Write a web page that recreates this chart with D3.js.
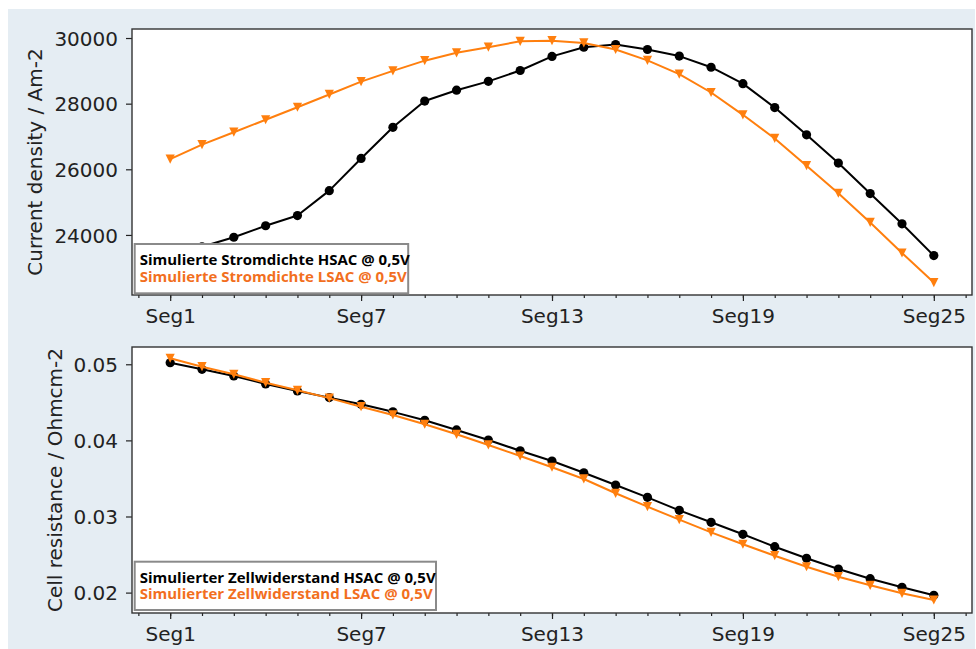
<!DOCTYPE html>
<html>
<head>
<meta charset="utf-8">
<script src="https://cdn.jsdelivr.net/npm/d3@7"></script>
<style>
  html, body { margin: 0; padding: 0; background: #ffffff; }
  svg { display: block; }
  .tick text { font-family: "DejaVu Sans", sans-serif; font-size: 20px; fill: #222; }
  .tick line { stroke: #222; stroke-width: 1.2; }
  .axis-title { font-family: "DejaVu Sans", sans-serif; font-size: 20px; fill: #222; }
  .legend-text { font-family: "Open Sans", sans-serif; font-weight: 700; font-size: 15px; }
</style>
</head>
<body>
<script>
// Segment categories along the cell
const segments = d3.range(1, 26).map(i => "Seg" + i);
const segTickLabels = ["Seg1", "Seg7", "Seg13", "Seg19", "Seg25"];

// Simulated current density per segment (A/m²)
const currentHSAC = [23250, 23640, 23930, 24280, 24590, 25350, 26330, 27280, 28080, 28410,
                     28680, 29010, 29440, 29720, 29800, 29650, 29450, 29110, 28610, 27880,
                     27050, 26190, 25260, 24340, 23370];
const currentLSAC = [26310, 26750, 27130, 27510, 27890, 28280, 28670, 29000, 29310, 29550,
                     29720, 29900, 29920, 29850, 29650, 29320, 28900, 28340, 27660, 26940,
                     26110, 25270, 24380, 23450, 22550];

// Simulated cell resistance per segment (Ohm cm²)
const resistHSAC = [0.0502, 0.04934, 0.04846, 0.04741, 0.04649, 0.04562, 0.04475, 0.04375, 0.04264, 0.04137,
                    0.04005, 0.03863, 0.03729, 0.03574, 0.03414, 0.03252, 0.03081, 0.02924, 0.02766, 0.02603,
                    0.02451, 0.0231, 0.02183, 0.0207, 0.01965];
const resistLSAC = [0.05079, 0.04968, 0.04869, 0.04758, 0.04658, 0.04555, 0.04443, 0.04334, 0.04212, 0.0408,
                    0.0394, 0.03795, 0.03647, 0.03493, 0.03305, 0.03129, 0.02958, 0.02792, 0.02635, 0.02485,
                    0.0234, 0.02209, 0.02096, 0.01991, 0.01903];

const currentTicks = [24000, 26000, 28000, 30000];
const resistTicks = [0.02, 0.03, 0.04, 0.05];

const W = 976, H = 649;
const svg = d3.select("body").append("svg").attr("width", W).attr("height", H);

// light figure background
svg.append("rect").attr("x", 8).attr("y", 9).attr("width", 967).attr("height", 640).attr("fill", "#e5edf3");

const left = 132, right = 972;
const x = d3.scaleLinear().domain([-1.2, 25.2]).range([left, right]);

function panel(cfg) {
  const g = svg.append("g");
  const y = d3.scaleLinear().domain(cfg.domain).range([cfg.bottom, cfg.top]);

  g.append("rect").attr("x", left).attr("y", cfg.top)
    .attr("width", right - left).attr("height", cfg.bottom - cfg.top)
    .attr("fill", "#ffffff");

  // x minor ticks at every segment (and one beyond each end)
  const minor = g.append("g").attr("transform", `translate(0,${cfg.bottom})`)
    .call(d3.axisBottom(x).tickValues(d3.range(-1, 26)).tickSize(3).tickFormat(""));
  minor.select(".domain").remove();

  // x major ticks with labels
  const major = g.append("g").attr("transform", `translate(0,${cfg.bottom})`)
    .call(d3.axisBottom(x)
      .tickValues(segTickLabels.map(s => segments.indexOf(s)))
      .tickSize(6).tickPadding(7.5)
      .tickFormat(i => segments[i]));
  major.select(".domain").remove();

  const yAxis = g.append("g").attr("transform", `translate(${left},0)`)
    .call(d3.axisLeft(y).tickValues(cfg.ticks).tickSize(6).tickPadding(8).tickFormat(cfg.fmt));
  yAxis.select(".domain").remove();
  yAxis.selectAll(".tick text").attr("dy", "0.36em");

  g.append("text").attr("class", "axis-title")
    .attr("transform", `translate(${cfg.titleX},${(cfg.top + cfg.bottom) / 2}) rotate(-90)`)
    .attr("text-anchor", "middle")
    .text(cfg.title);

  const plot = g.append("g");
  cfg.series.forEach(s => {
    const line = d3.line().x((d, i) => x(i)).y(d => y(d));
    plot.append("path").datum(s.values)
      .attr("fill", "none").attr("stroke", s.color).attr("stroke-width", 2)
      .attr("stroke-linejoin", "round").attr("d", line);
    const pts = plot.selectAll(null).data(s.values).enter();
    if (s.marker === "circle") {
      pts.append("circle").attr("cx", (d, i) => x(i)).attr("cy", d => y(d))
        .attr("r", 4.6).attr("fill", s.color);
    } else {
      pts.append("path")
        .attr("transform", (d, i) => `translate(${x(i)},${y(d)})`)
        .attr("d", "M-4.6,-4.6L4.6,-4.6L0,4.6Z").attr("fill", s.color);
    }
  });

  // frame
  g.append("rect").attr("x", left).attr("y", cfg.top)
    .attr("width", right - left).attr("height", cfg.bottom - cfg.top)
    .attr("fill", "none").attr("stroke", "#333").attr("stroke-width", 1.4);

  // legend box
  const lg = g.append("g");
  lg.append("rect").attr("x", cfg.legend.x).attr("y", cfg.legend.y)
    .attr("width", cfg.legend.w).attr("height", cfg.legend.h)
    .attr("fill", "#ffffff").attr("stroke", "#8a8a8a").attr("stroke-width", 2);
  cfg.series.forEach((s, k) => {
    lg.append("text").attr("class", "legend-text")
      .attr("x", cfg.legend.x + 5).attr("y", cfg.legend.y + 21 + k * 16.7)
      .attr("fill", s.legendColor).text(s.label);
  });
}

panel({
  top: 29, bottom: 295,
  domain: [22170, 30275],
  ticks: currentTicks, fmt: d3.format("d"),
  title: "Current density / Am-2", titleX: 41.5,
  legend: { x: 134.7, y: 244, w: 273.5, h: 49.3 },
  series: [
    { values: currentHSAC, color: "#000000", legendColor: "#000000", marker: "circle",
      label: "Simulierte Stromdichte HSAC @ 0,5V" },
    { values: currentLSAC, color: "#ff7f0e", legendColor: "#f26f1e", marker: "triangle",
      label: "Simulierte Stromdichte LSAC @ 0,5V" }
  ]
});

panel({
  top: 347, bottom: 613,
  domain: [0.01732, 0.05227],
  ticks: resistTicks, fmt: d3.format(".2f"),
  title: "Cell resistance / Ohmcm-2", titleX: 61.5,
  legend: { x: 134.7, y: 561.7, w: 301.3, h: 48.3 },
  series: [
    { values: resistHSAC, color: "#000000", legendColor: "#000000", marker: "circle",
      label: "Simulierter Zellwiderstand HSAC @ 0,5V" },
    { values: resistLSAC, color: "#ff7f0e", legendColor: "#f26f1e", marker: "triangle",
      label: "Simulierter Zellwiderstand LSAC @ 0,5V" }
  ]
});
</script>
</body>
</html>
